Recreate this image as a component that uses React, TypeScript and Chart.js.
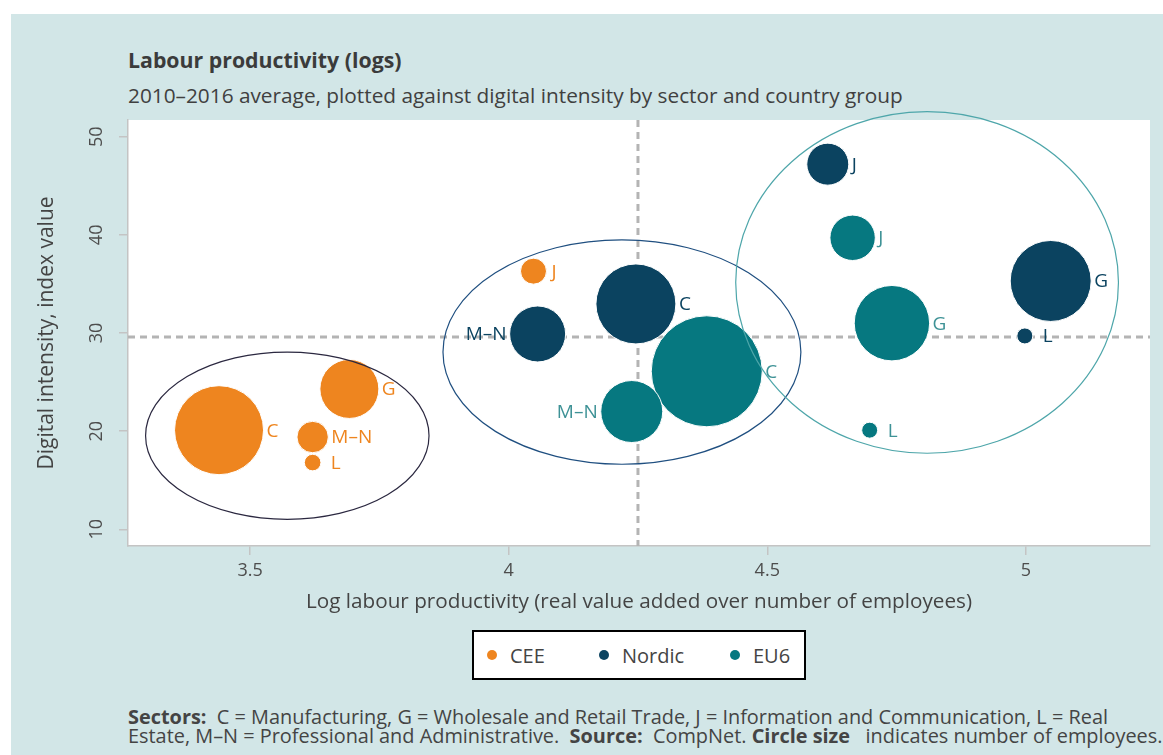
import React, { useEffect, useRef } from "react";
import { Chart, registerables } from "chart.js";

Chart.register(...registerables);

// ---- Data ----
const seriesNames = ["CEE", "Nordic", "EU6"];
const seriesColors = ["#ee851f", "#0b4360", "#067880"];
const labelColors = ["#ee851f", "#0b4360", "#3e9296"];

const ceeSectors = ["C", "G", "M\u2013N", "L", "J"];
const ceeX = [3.44, 3.692, 3.621, 3.621, 4.048];
const ceeY = [20.1, 24.3, 19.4, 16.8, 36.3];
const ceeSize = [44.5, 29.5, 15.7, 8.3, 13];
const ceeLabelSide = ["r", "r", "r", "r", "r"];

const nordicSectors = ["C", "M\u2013N", "J", "G", "L"];
const nordicX = [4.246, 4.056, 4.617, 5.048, 4.998];
const nordicY = [32.96, 29.9, 47.2, 35.3, 29.7];
const nordicSize = [40, 28, 21, 40.5, 8];
const nordicLabelSide = ["r", "l", "r", "r", "r"];

const eu6Sectors = ["C", "M\u2013N", "J", "G", "L"];
const eu6X = [4.383, 4.238, 4.665, 4.741, 4.698];
const eu6Y = [26.1, 22.0, 39.7, 31.0, 20.1];
const eu6Size = [55.5, 31, 22.7, 37.7, 8];
const eu6LabelSide = ["r", "l", "r", "r", "r"];

// group ellipses (data units)
const ellipseCX = [3.572, 4.219, 4.809];
const ellipseCY = [19.54, 28.06, 35.15];
const ellipseRX = [0.274, 0.346, 0.37];
const ellipseRY = [8.52, 11.43, 17.4];
const ellipseColors = ["#2b2840", "#1f4f80", "#4ea6aa"];

// reference lines
const refX = 4.25;
const refY = 29.6;

const xTickValues = [3.5, 4, 4.5, 5];
const yTickValues = [10, 20, 30, 40, 50];
const xMin = 3.264;
const xMax = 5.24;
const yMin = 8.3;
const yMax = 51.7;

const FONT = "'Open Sans', Lato, sans-serif";

const allSectors = [ceeSectors, nordicSectors, eu6Sectors];
const allX = [ceeX, nordicX, eu6X];
const allY = [ceeY, nordicY, eu6Y];
const allSize = [ceeSize, nordicSize, eu6Size];
const allSide = [ceeLabelSide, nordicLabelSide, eu6LabelSide];

const plotBgPlugin = {
  id: "plotBg",
  beforeDraw(chart: any) {
    const { ctx, chartArea } = chart;
    ctx.save();
    ctx.fillStyle = "#ffffff";
    ctx.fillRect(chartArea.left, chartArea.top, chartArea.right - chartArea.left, chartArea.bottom - chartArea.top);
    ctx.restore();
  },
};

const refLinePlugin = {
  id: "refLines",
  beforeDatasetsDraw(chart: any) {
    const { ctx, chartArea, scales } = chart;
    const px = scales.x.getPixelForValue(refX);
    const py = scales.y.getPixelForValue(refY);
    ctx.save();
    ctx.strokeStyle = "#b4b4b4";
    ctx.lineWidth = 3;
    ctx.setLineDash([7, 5]);
    ctx.beginPath();
    ctx.moveTo(px, chartArea.top);
    ctx.lineTo(px, chartArea.bottom);
    ctx.moveTo(chartArea.left, py);
    ctx.lineTo(chartArea.right, py);
    ctx.stroke();
    ctx.restore();
  },
};

const overlayPlugin = {
  id: "overlay",
  afterDatasetsDraw(chart: any) {
    const { ctx, scales } = chart;
    const xs = scales.x;
    const ys = scales.y;
    ctx.save();
    for (let i = 0; i < ellipseCX.length; i++) {
      const cx = xs.getPixelForValue(ellipseCX[i]);
      const cy = ys.getPixelForValue(ellipseCY[i]);
      const rx = Math.abs(xs.getPixelForValue(ellipseCX[i] + ellipseRX[i]) - cx);
      const ry = Math.abs(ys.getPixelForValue(ellipseCY[i] + ellipseRY[i]) - cy);
      ctx.beginPath();
      ctx.ellipse(cx, cy, rx, ry, 0, 0, Math.PI * 2);
      ctx.strokeStyle = ellipseColors[i];
      ctx.lineWidth = 1.2;
      ctx.stroke();
    }
    ctx.font = `19px ${FONT}`;
    ctx.textBaseline = "middle";
    chart.data.datasets.forEach((ds: any, di: number) => {
      const meta = chart.getDatasetMeta(di);
      meta.data.forEach((el: any, i: number) => {
        const r = ds.data[i].r;
        const side = allSide[di][i];
        ctx.fillStyle = labelColors[di];
        if (side === "l") {
          ctx.textAlign = "right";
          ctx.fillText(allSectors[di][i], el.x - r - 3, el.y + 1);
        } else {
          ctx.textAlign = "left";
          ctx.fillText(allSectors[di][i], el.x + Math.max(r + 3, 18), el.y + 1);
        }
      });
    });
    ctx.restore();
  },
};

export default function App() {
  const canvasRef = useRef<HTMLCanvasElement | null>(null);

  useEffect(() => {
    const canvas = canvasRef.current;
    if (!canvas) return;
    const datasets = seriesNames.map((name, si) => ({
      label: name,
      data: allX[si].map((x, i) => ({ x, y: allY[si][i], r: allSize[si][i] })),
      backgroundColor: seriesColors[si],
      borderColor: "#ffffff",
      borderWidth: 1,
    }));
    const chart = new Chart(canvas, {
      type: "bubble",
      data: { datasets },
      plugins: [plotBgPlugin, refLinePlugin, overlayPlugin],
      options: {
        responsive: false,
        animation: false,
        devicePixelRatio: 1,
        layout: { autoPadding: false, padding: { left: 0, top: 120, right: 13, bottom: 0 } },
        plugins: {
          legend: { display: false },
          tooltip: { enabled: false },
          title: { display: false },
        },
        scales: {
          x: {
            type: "linear",
            min: xMin,
            max: xMax,
            afterBuildTicks(scale: any) {
              scale.ticks = xTickValues.map((v) => ({ value: v }));
            },
            afterFit(scale: any) {
              scale.height = 74;
            },
            grid: { drawOnChartArea: false, drawTicks: true, tickLength: 9, color: "#c4c4c4", lineWidth: 1.5 },
            border: { color: "#c4c4c4", width: 1.5 },
            ticks: {
              font: { family: FONT, size: 18 },
              color: "#4d4d4d",
              padding: 5,
              maxRotation: 0,
              callback: (v: any) => String(v),
            },
            title: {
              display: true,
              text: "Log labour productivity (real value added over number of employees)",
              font: { family: FONT, size: 20.7 },
              color: "#444444",
              padding: { top: 0, bottom: 5 },
            },
          },
          y: {
            type: "linear",
            min: yMin,
            max: yMax,
            afterBuildTicks(scale: any) {
              scale.ticks = yTickValues.map((v) => ({ value: v }));
            },
            afterFit(scale: any) {
              scale.width = 128;
            },
            grid: { drawOnChartArea: false, drawTicks: true, tickLength: 9, color: "#c4c4c4", lineWidth: 1.5 },
            border: { color: "#c4c4c4", width: 1.5 },
            ticks: {
              font: { family: FONT, size: 18 },
              color: "#4d4d4d",
              padding: 12,
              minRotation: 90,
              maxRotation: 90,
              crossAlign: "center",
              callback: (v: any) => String(v),
            },
            title: {
              display: true,
              text: "Digital intensity, index value",
              font: { family: FONT, size: 21 },
              color: "#444444",
              padding: { top: 34, bottom: 0 },
            },
          },
        },
      } as any,
    });
    return () => chart.destroy();
  }, []);

  const legendDotX = [13, 125, 256];
  return (
    <div style={{ position: "absolute", left: 0, top: 0, width: 1163, height: 755, overflow: "hidden", fontFamily: FONT }}>
      <div style={{ position: "absolute", left: 11, top: 14, right: 0, bottom: 0, background: "#d2e6e7" }} />
      <div style={{ position: "absolute", left: 128, top: 46, fontSize: 21.3, fontWeight: 700, color: "#3b3b3b", whiteSpace: "nowrap", lineHeight: "28px" }}>
        Labour productivity (logs)
      </div>
      <div style={{ position: "absolute", left: 128, top: 81, fontSize: 20.8, color: "#404040", whiteSpace: "nowrap", lineHeight: "28px" }}>
        2010–2016 average, plotted against digital intensity by sector and country group
      </div>
      <canvas ref={canvasRef} width={1163} height={620} style={{ position: "absolute", left: 0, top: 0, width: 1163, height: 620 }} />
      <div style={{ position: "absolute", left: 472, top: 630, width: 330, height: 46, border: "2px solid #000", background: "#fff" }}>
        {seriesNames.map((n, i) => (
          <div key={n} style={{ position: "absolute", left: legendDotX[i], top: 0, height: 46, display: "flex", alignItems: "center", whiteSpace: "nowrap" }}>
            <span style={{ display: "inline-block", width: 10, height: 10, borderRadius: 5, background: seriesColors[i], marginRight: 13 }} />
            <span style={{ fontSize: 20, color: "#444" }}>{n}</span>
          </div>
        ))}
      </div>
      <div style={{ position: "absolute", left: 128, top: 707, fontSize: 19.9, lineHeight: "19px", color: "#444", whiteSpace: "nowrap" }}>
        <div>
          <b>Sectors:</b>&nbsp; C = Manufacturing, G = Wholesale and Retail Trade, J = Information and Communication, L = Real
        </div>
        <div>
          Estate, M–N = Professional and Administrative.&nbsp; <b>Source:</b>&nbsp; CompNet.&nbsp;<b>Circle size</b>&nbsp;&nbsp; indicates number of employees.
        </div>
      </div>
    </div>
  );
}
